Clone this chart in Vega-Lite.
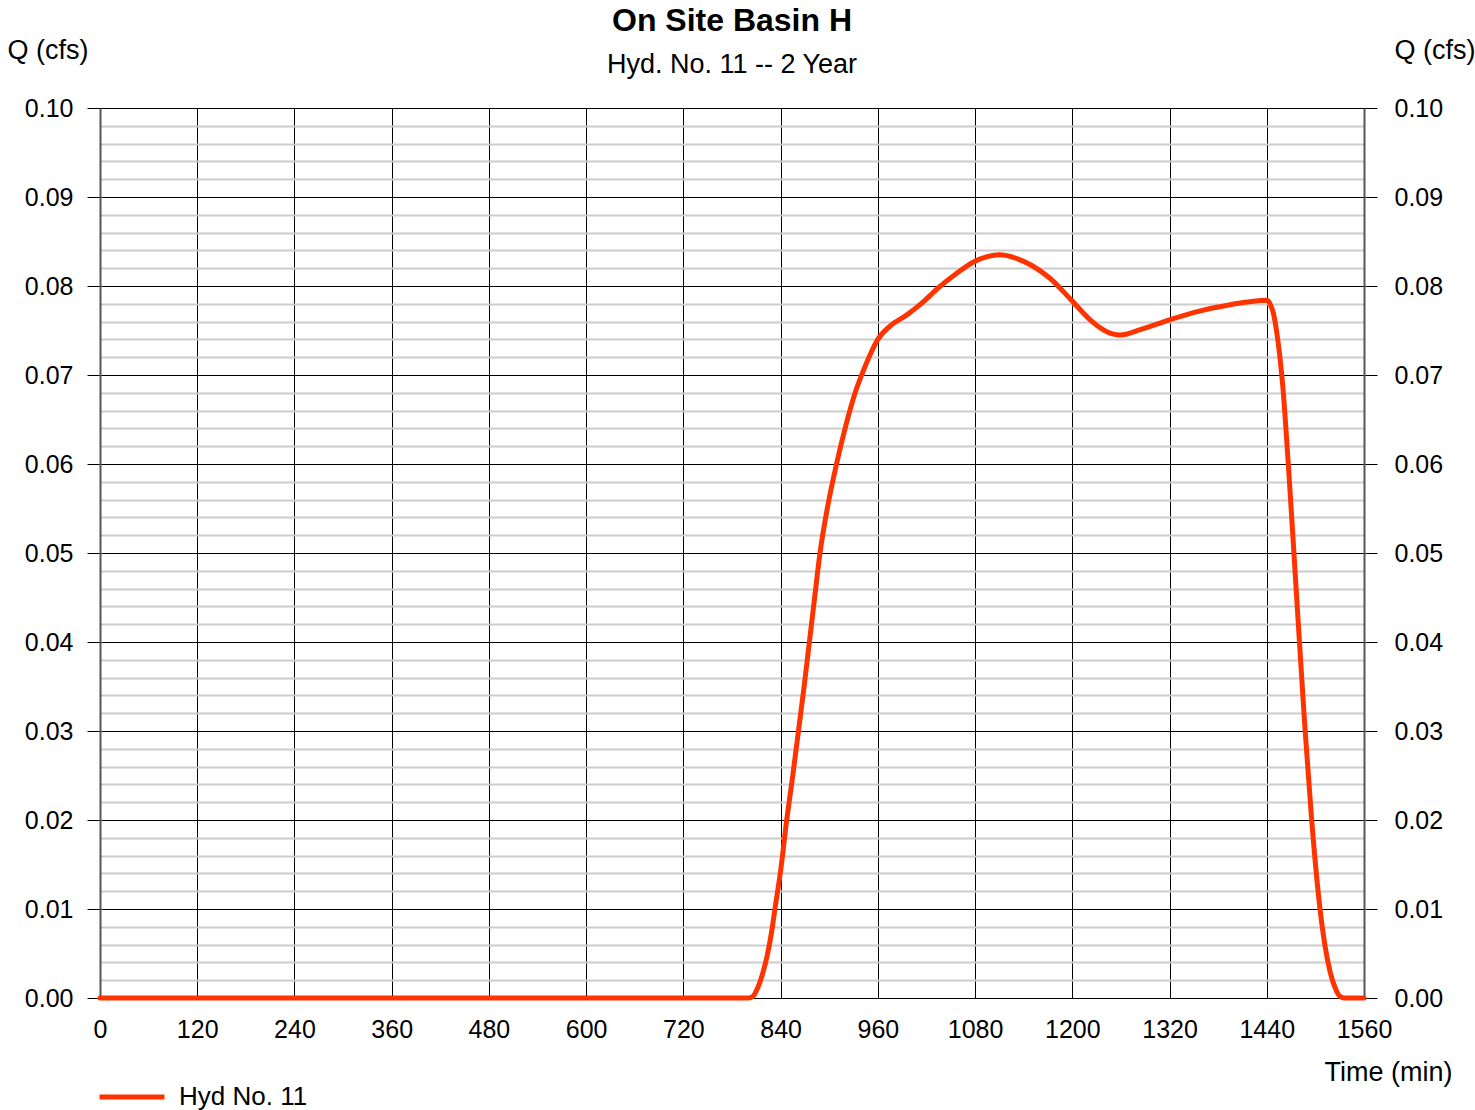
{
  "$schema": "https://vega.github.io/schema/vega-lite/v6.json",
  "width": 1264,
  "height": 890,
  "autosize": {"type": "none"},
  "padding": {"left": 100, "top": 108, "right": 111, "bottom": 112},
  "background": "white",
  "config": {
    "view": {"stroke": null},
    "font": "Liberation Sans",
    "axis": {"labelFont": "Liberation Sans", "titleFont": "Liberation Sans", "labelColor": "black", "titleColor": "black"}
  },
  "title": {
    "text": "On Site Basin H",
    "subtitle": "Hyd. No. 11 -- 2 Year",
    "font": "Liberation Sans",
    "fontSize": 32,
    "fontWeight": "bold",
    "color": "black",
    "subtitleFont": "Liberation Sans",
    "subtitleFontSize": 27,
    "subtitleColor": "black",
    "subtitlePadding": 14,
    "anchor": "middle",
    "frame": "group",
    "offset": -43
  },
  "data": {
    "values": [
      {"t": 0, "q": 0, "s": "Hyd No. 11"},
      {"t": 790, "q": 0, "s": "Hyd No. 11"},
      {"t": 800, "q": 0, "s": "Hyd No. 11"},
      {"t": 806, "q": 0.0002, "s": "Hyd No. 11"},
      {"t": 812, "q": 0.0012, "s": "Hyd No. 11"},
      {"t": 818, "q": 0.0028, "s": "Hyd No. 11"},
      {"t": 824, "q": 0.0050, "s": "Hyd No. 11"},
      {"t": 829, "q": 0.0075, "s": "Hyd No. 11"},
      {"t": 833, "q": 0.0100, "s": "Hyd No. 11"},
      {"t": 840, "q": 0.0143, "s": "Hyd No. 11"},
      {"t": 847.5, "q": 0.0200, "s": "Hyd No. 11"},
      {"t": 855, "q": 0.0250, "s": "Hyd No. 11"},
      {"t": 862, "q": 0.0300, "s": "Hyd No. 11"},
      {"t": 869, "q": 0.0350, "s": "Hyd No. 11"},
      {"t": 875.5, "q": 0.0400, "s": "Hyd No. 11"},
      {"t": 882, "q": 0.0450, "s": "Hyd No. 11"},
      {"t": 888.6, "q": 0.0500, "s": "Hyd No. 11"},
      {"t": 898, "q": 0.0552, "s": "Hyd No. 11"},
      {"t": 909, "q": 0.0600, "s": "Hyd No. 11"},
      {"t": 921, "q": 0.0645, "s": "Hyd No. 11"},
      {"t": 932, "q": 0.0680, "s": "Hyd No. 11"},
      {"t": 940, "q": 0.0700, "s": "Hyd No. 11"},
      {"t": 950, "q": 0.0722, "s": "Hyd No. 11"},
      {"t": 960, "q": 0.0740, "s": "Hyd No. 11"},
      {"t": 975, "q": 0.0755, "s": "Hyd No. 11"},
      {"t": 995, "q": 0.0767, "s": "Hyd No. 11"},
      {"t": 1012, "q": 0.0779, "s": "Hyd No. 11"},
      {"t": 1036, "q": 0.0799, "s": "Hyd No. 11"},
      {"t": 1057, "q": 0.0814, "s": "Hyd No. 11"},
      {"t": 1078, "q": 0.0827, "s": "Hyd No. 11"},
      {"t": 1095, "q": 0.0833, "s": "Hyd No. 11"},
      {"t": 1110, "q": 0.0835, "s": "Hyd No. 11"},
      {"t": 1131, "q": 0.0831, "s": "Hyd No. 11"},
      {"t": 1150, "q": 0.0823, "s": "Hyd No. 11"},
      {"t": 1172, "q": 0.0809, "s": "Hyd No. 11"},
      {"t": 1199, "q": 0.0784, "s": "Hyd No. 11"},
      {"t": 1222, "q": 0.0762, "s": "Hyd No. 11"},
      {"t": 1242, "q": 0.0749, "s": "Hyd No. 11"},
      {"t": 1259, "q": 0.0745, "s": "Hyd No. 11"},
      {"t": 1284, "q": 0.0751, "s": "Hyd No. 11"},
      {"t": 1320, "q": 0.0762, "s": "Hyd No. 11"},
      {"t": 1353, "q": 0.0771, "s": "Hyd No. 11"},
      {"t": 1395, "q": 0.0779, "s": "Hyd No. 11"},
      {"t": 1440, "q": 0.0784, "s": "Hyd No. 11"},
      {"t": 1444, "q": 0.0780, "s": "Hyd No. 11"},
      {"t": 1448, "q": 0.0770, "s": "Hyd No. 11"},
      {"t": 1452, "q": 0.0750, "s": "Hyd No. 11"},
      {"t": 1456, "q": 0.0722, "s": "Hyd No. 11"},
      {"t": 1460, "q": 0.0685, "s": "Hyd No. 11"},
      {"t": 1464, "q": 0.0635, "s": "Hyd No. 11"},
      {"t": 1468, "q": 0.0580, "s": "Hyd No. 11"},
      {"t": 1472, "q": 0.0522, "s": "Hyd No. 11"},
      {"t": 1476, "q": 0.0463, "s": "Hyd No. 11"},
      {"t": 1480, "q": 0.0405, "s": "Hyd No. 11"},
      {"t": 1487, "q": 0.0305, "s": "Hyd No. 11"},
      {"t": 1495, "q": 0.0205, "s": "Hyd No. 11"},
      {"t": 1505.7, "q": 0.0100, "s": "Hyd No. 11"},
      {"t": 1512, "q": 0.0058, "s": "Hyd No. 11"},
      {"t": 1518, "q": 0.0030, "s": "Hyd No. 11"},
      {"t": 1525, "q": 0.0010, "s": "Hyd No. 11"},
      {"t": 1530, "q": 0.0002, "s": "Hyd No. 11"},
      {"t": 1535, "q": 0, "s": "Hyd No. 11"},
      {"t": 1560, "q": 0, "s": "Hyd No. 11"}
    ]
  },
  "encoding": {
    "x": {
      "field": "t",
      "type": "quantitative",
      "scale": {"domain": [0, 1560], "nice": false, "zero": false},
      "axis": {
        "values": [0, 120, 240, 360, 480, 600, 720, 840, 960, 1080, 1200, 1320, 1440, 1560],
        "format": "d",
        "grid": true,
        "gridColor": "black",
        "gridWidth": 1,
        "gridOpacity": 1,
        "ticks": false,
        "tickSize": 0,
        "domain": false,
        "labelPadding": 19,
        "labelFontSize": 25,
        "labelFlush": false,
        "labelOverlap": false,
        "title": "Time (min)",
        "titleFontSize": 27,
        "titleFontWeight": "normal",
        "titleAnchor": "end",
        "titleAlign": "right",
        "titleBaseline": "alphabetic",
        "titleX": 1352,
        "titleY": 82
      }
    }
  },
  "layer": [
    {
      "mark": {"type": "line", "strokeOpacity": 0},
      "encoding": {
        "y": {
          "field": "q",
          "type": "quantitative",
          "scale": {"domain": [0, 0.1], "nice": false},
          "axis": {
            "orient": "left",
            "values": [0.002, 0.004, 0.006, 0.008, 0.012, 0.014, 0.016, 0.018, 0.022, 0.024, 0.026, 0.028, 0.032, 0.034, 0.036, 0.038, 0.042, 0.044, 0.046, 0.048, 0.052, 0.054, 0.056, 0.058, 0.062, 0.064, 0.066, 0.068, 0.072, 0.074, 0.076, 0.078, 0.082, 0.084, 0.086, 0.088, 0.092, 0.094, 0.096, 0.098],
            "grid": true,
            "gridColor": "#cccccc",
            "gridWidth": 2,
            "gridOpacity": 1,
            "labels": false,
            "ticks": false,
            "domain": false,
            "title": null
          }
        }
      }
    },
    {
      "mark": {"type": "line", "strokeOpacity": 0},
      "encoding": {
        "y": {
          "field": "q",
          "type": "quantitative",
          "axis": {
            "orient": "left",
            "values": [0, 0.01, 0.02, 0.03, 0.04, 0.05, 0.06, 0.07, 0.08, 0.09, 0.1],
            "format": ".2f",
            "grid": true,
            "gridColor": "black",
            "gridWidth": 1,
            "gridOpacity": 1,
            "ticks": true,
            "tickSize": 13,
            "tickColor": "black",
            "tickWidth": 1,
            "domain": true,
            "domainColor": "#555555",
            "domainWidth": 2,
            "labelPadding": 14,
            "labelFontSize": 25,
            "labelOverlap": false,
            "title": "Q (cfs)",
            "titleFontSize": 27,
            "titleFontWeight": "normal",
            "titleAngle": 0,
            "titleAlign": "left",
            "titleBaseline": "alphabetic",
            "titleAnchor": "start",
            "titleX": -93,
            "titleY": -50
          }
        }
      }
    },
    {
      "mark": {"type": "line", "strokeWidth": 5, "interpolate": "monotone", "strokeCap": "round", "strokeJoin": "round"},
      "encoding": {
        "y": {
          "field": "q",
          "type": "quantitative",
          "axis": {
            "orient": "right",
            "values": [0, 0.01, 0.02, 0.03, 0.04, 0.05, 0.06, 0.07, 0.08, 0.09, 0.1],
            "format": ".2f",
            "grid": false,
            "ticks": true,
            "tickSize": 13,
            "tickColor": "black",
            "tickWidth": 1,
            "domain": true,
            "domainColor": "#555555",
            "domainWidth": 2,
            "labelPadding": 17,
            "labelFontSize": 25,
            "labelOverlap": false,
            "title": "Q (cfs)",
            "titleFontSize": 27,
            "titleFontWeight": "normal",
            "titleAngle": 0,
            "titleAlign": "left",
            "titleBaseline": "alphabetic",
            "titleAnchor": "start",
            "titleX": 30,
            "titleY": -50
          }
        },
        "color": {
          "field": "s",
          "type": "nominal",
          "scale": {"range": ["#ff3300"]},
          "legend": {
            "orient": "none",
            "legendX": -3,
            "legendY": 954,
            "title": null,
            "padding": 0,
            "symbolType": "stroke",
            "symbolSize": 4225,
            "symbolStrokeWidth": 5,
            "labelFont": "Liberation Sans",
            "labelFontSize": 26,
            "labelColor": "black",
            "labelOffset": 12
          }
        }
      }
    }
  ],
  "resolve": {"axis": {"y": "independent"}}
}
